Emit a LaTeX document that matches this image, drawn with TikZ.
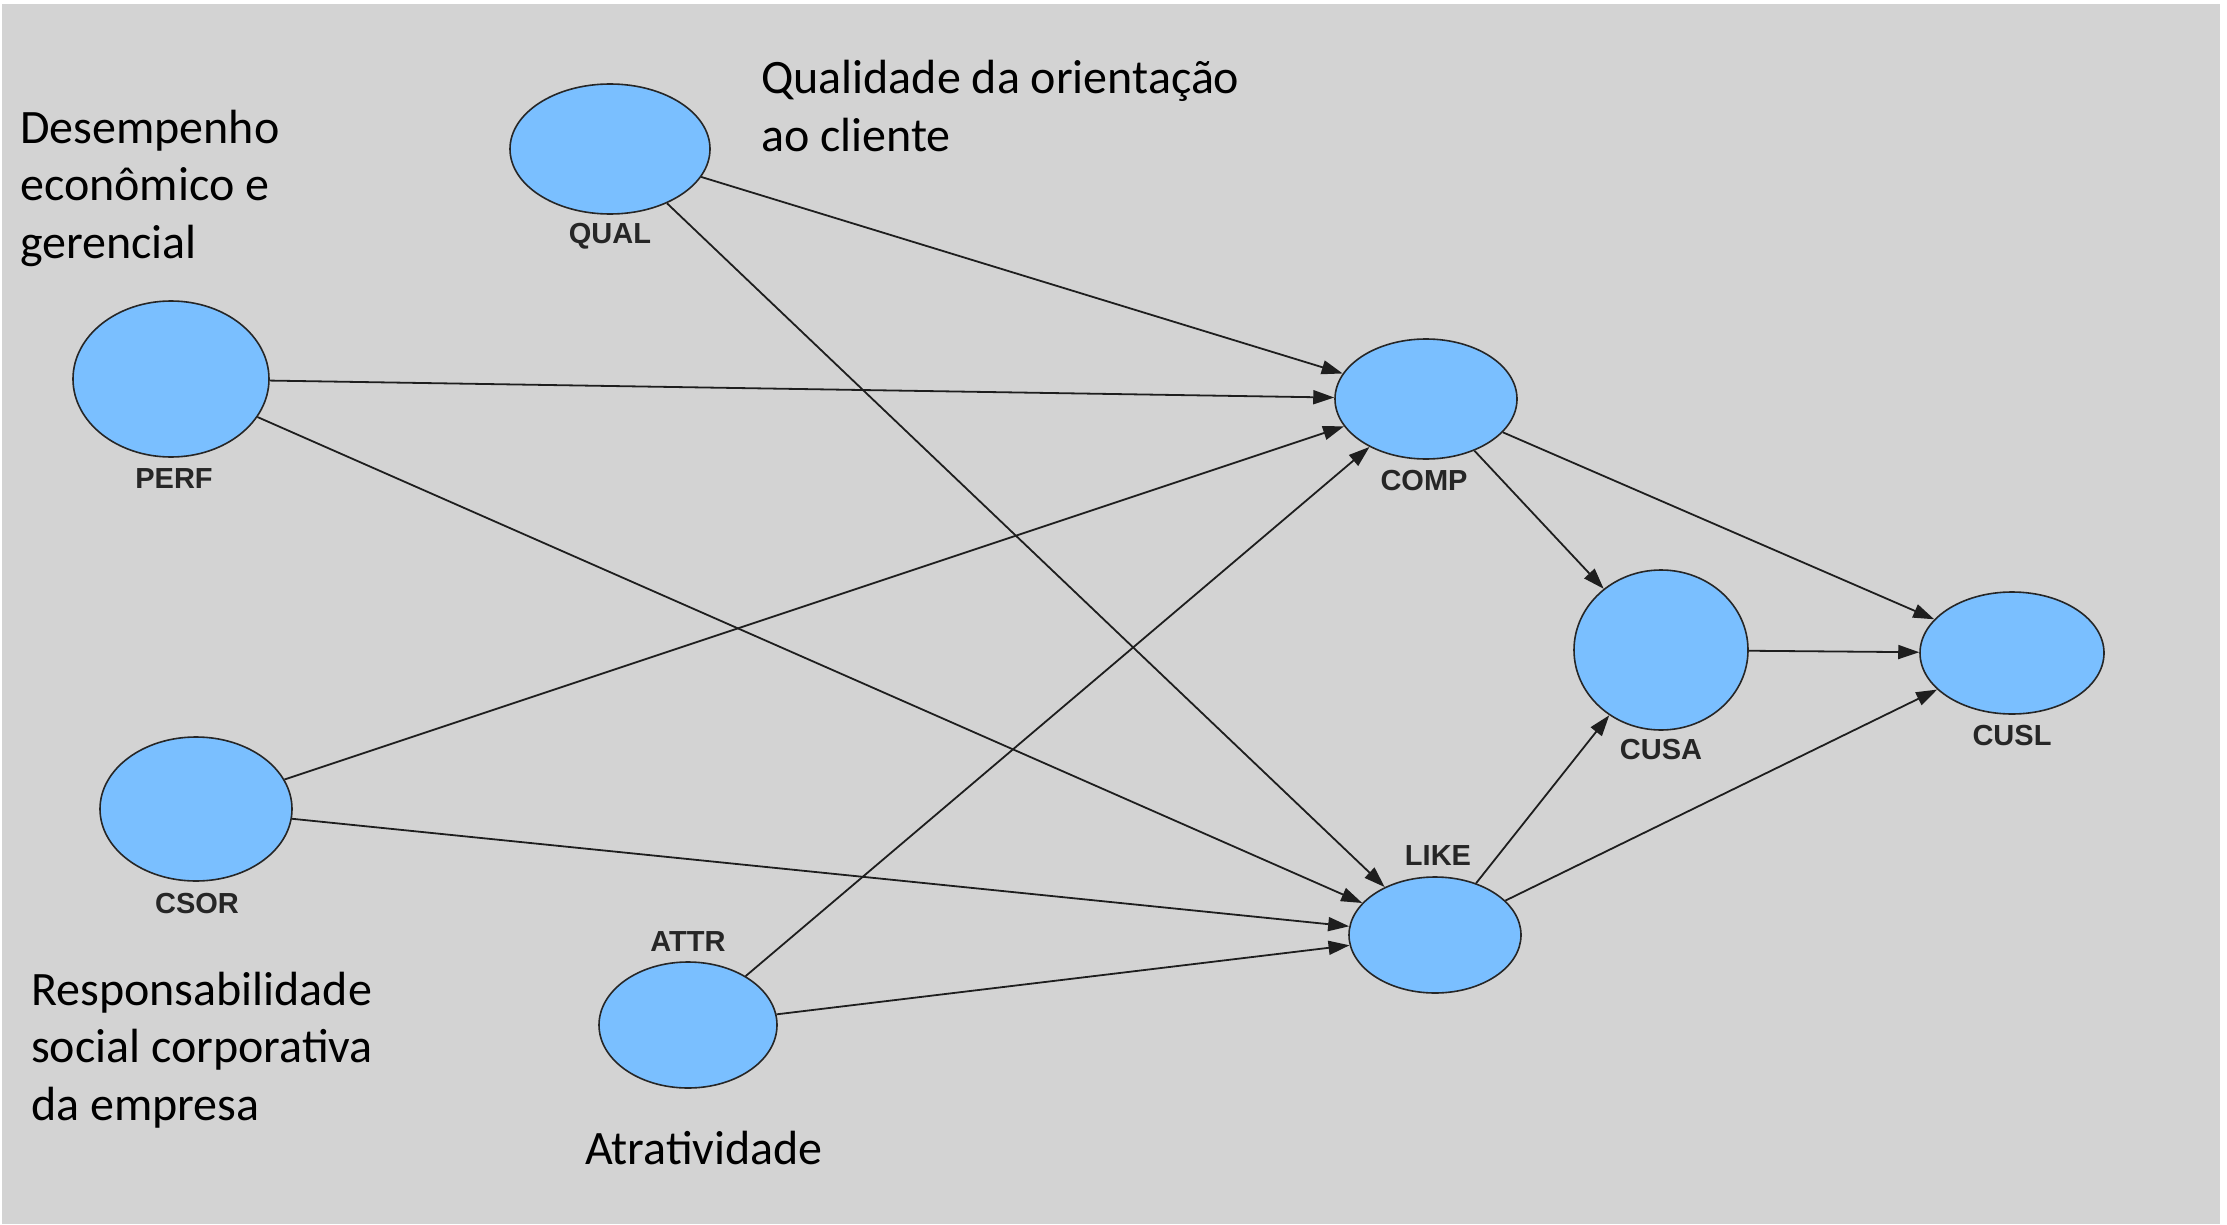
\documentclass[tikz,border=0pt]{standalone}
\usepackage{fontspec}
\setmainfont{Carlito}
\newfontfamily\lblfont{Liberation Sans}
\usetikzlibrary{arrows.meta,shapes.geometric}
\definecolor{bggray}{HTML}{D3D3D3}
\definecolor{nodeblue}{HTML}{7ABFFF}
\definecolor{edgegray}{HTML}{1E1E1E}
\tikzset{
  lv/.style={ellipse, draw=black!85, line width=1.6pt, fill=nodeblue, inner sep=0pt},
  lvlabel/.style={font=\lblfont\bfseries\fontsize{29}{31}\selectfont, text=black!85, inner sep=0pt},
  desc/.style={font=\fontsize{48}{57.5}\selectfont, align=left, anchor=west, inner sep=0pt},
  pathedge/.style={draw=edgegray, line width=1.8pt, -{Triangle[length=21pt,width=14pt]}},
}
\begin{document}
\begin{tikzpicture}[x=1pt,y=-1pt]
\useasboundingbox (0,0) rectangle (2227,1225);
\fill[white] (0,0) rectangle (2227,1225);
\fill[bggray] (2,4) rectangle (2220,1224);

\node[lv, minimum width=200pt, minimum height=130pt] (QUAL) at (610,149) {};
\node[lv, minimum width=196pt, minimum height=156pt] (PERF) at (171,379) {};
\node[lv, minimum width=182pt, minimum height=120pt] (COMP) at (1426,399) {};
\node[lv, minimum width=174pt, minimum height=160pt] (CUSA) at (1661,650) {};
\node[lv, minimum width=184pt, minimum height=122pt] (CUSL) at (2012,653) {};
\node[lv, minimum width=192pt, minimum height=144pt] (CSOR) at (196,809) {};
\node[lv, minimum width=172pt, minimum height=116pt] (LIKE) at (1435,935) {};
\node[lv, minimum width=178pt, minimum height=126pt] (ATTR) at (688,1025) {};

\node[lvlabel] (lQUAL) at (610,236) {QUAL};
\node[lvlabel] (lPERF) at (174,479) {PERF};
\node[lvlabel] (lCOMP) at (1424,481) {COMP};
\node[lvlabel] (lCUSA) at (1661,750) {CUSA};
\node[lvlabel] (lCUSL) at (2012,736) {CUSL};
\node[lvlabel] (lCSOR) at (197,904) {CSOR};
\node[lvlabel] (lLIKE) at (1438,856) {LIKE};
\node[lvlabel] (lATTR) at (688,942) {ATTR};

\node[desc] (tPERF) at (20,188) {Desempenho\\econômico e\\gerencial};
\node[desc] (tQUAL) at (761,106) {Qualidade da orientação\\ao cliente};
\node[desc] (tCSOR) at (31,1050) {Responsabilidade\\social corporativa\\da empresa};
\node[desc] (tATTR) at (585,1148) {Atratividade};

\draw[pathedge] (QUAL) -- (COMP);
\draw[pathedge] (QUAL) -- (LIKE);
\draw[pathedge] (PERF) -- (COMP);
\draw[pathedge] (PERF) -- (LIKE);
\draw[pathedge] (CSOR) -- (COMP);
\draw[pathedge] (CSOR) -- (LIKE);
\draw[pathedge] (ATTR) -- (COMP);
\draw[pathedge] (ATTR) -- (LIKE);
\draw[pathedge] (COMP) -- (CUSA);
\draw[pathedge] (COMP) -- (CUSL);
\draw[pathedge] (LIKE) -- (CUSA);
\draw[pathedge] (LIKE) -- (CUSL);
\draw[pathedge] (CUSA) -- (CUSL);
\end{tikzpicture}
\end{document}
